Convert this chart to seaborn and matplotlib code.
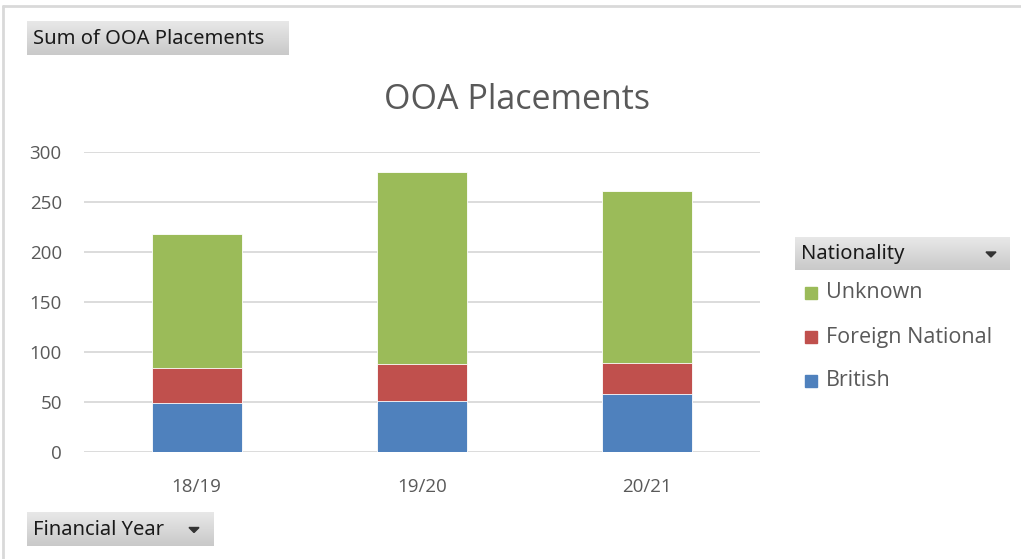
import numpy as np
import pandas as pd
import matplotlib
matplotlib.use("Agg")
import matplotlib.pyplot as plt
import seaborn as sns

# data
years = ["18/19", "19/20", "20/21"]
british = [49, 51, 58]
foreign = [35, 37, 31]
unknown = [134, 192, 172]

GREEN = "#9bbb59"
RED = "#c0504d"
BLUE = "#4f81bd"
TXT = "#595959"

sns.set_theme(style="white")
plt.rcParams['font.family'] = ['Open Sans', 'DejaVu Sans']

W, H = 1021, 559
fig = plt.figure(figsize=(W / 100, H / 100), dpi=100)

# background layer in pixel coords for frame and buttons
bg = fig.add_axes([0, 0, 1, 1])
bg.set_xlim(0, W)
bg.set_ylim(H, 0)
bg.axis("off")
bg.plot([3, W], [6, 6], color="#d9d9d9", lw=2)
bg.plot([3, 3], [6, H], color="#d9d9d9", lw=2)

grad = np.linspace(0, 1, 64).reshape(-1, 1)
cmap = matplotlib.colors.LinearSegmentedColormap.from_list("btn", ["#e8e8e8", "#c9c9c9"])


def button(x0, y0, x1, y1, label, arrow=False):
    bg.imshow(grad, cmap=cmap, extent=(x0, x1, y1, y0), aspect="auto", zorder=1)
    bg.text(x0 + 6, (y0 + y1) / 2 + 1, label, fontsize=14.5, color="#1a1a1a",
            va="center", ha="left", family=["Noto Sans", "DejaVu Sans"], zorder=2)
    if arrow:
        tx = x1 - 19
        ty = (y0 + y1) / 2 + 1
        bg.add_patch(plt.Polygon([[tx - 5, ty - 2.5], [tx + 5, ty - 2.5], [tx, ty + 2.5]],
                                 color="#333333", zorder=2))


button(27, 21, 288, 55, "Sum of OOA Placements")
button(27, 512, 213, 546, "Financial Year", arrow=True)
button(795, 237, 1010, 270, "Nationality", arrow=True)

# main chart
ax = fig.add_axes([84 / W, 1 - 452 / H, (760 - 84) / W, (452 - 152) / H])
ax.set_facecolor("none")

df = pd.DataFrame({"year": years, "British": british,
                   "Foreign National": foreign, "Unknown": unknown})
df["lvl2"] = df["British"] + df["Foreign National"]
df["lvl3"] = df["lvl2"] + df["Unknown"]

sns.barplot(data=df, x="year", y="lvl3", color=GREEN, width=0.4, saturation=1,
            edgecolor="white", linewidth=0.6, ax=ax, zorder=3)
sns.barplot(data=df, x="year", y="lvl2", color=RED, width=0.4, saturation=1,
            edgecolor="white", linewidth=0.6, ax=ax, zorder=4)
sns.barplot(data=df, x="year", y="British", color=BLUE, width=0.4, saturation=1,
            edgecolor="white", linewidth=0.6, ax=ax, zorder=5)

ax.set_ylim(0, 300)
ax.set_xlim(-0.5, 2.5)
ax.set_yticks(range(0, 301, 50))
ax.yaxis.grid(True, color="#d9d9d9", lw=1.3, zorder=0)
ax.set_axisbelow(True)
for s in ax.spines.values():
    s.set_visible(False)
ax.tick_params(axis="both", length=0, labelsize=13.5, colors=TXT)
ax.tick_params(axis="y", pad=16)
ax.tick_params(axis="x", pad=19)
ax.set_xlabel("")
ax.set_ylabel("")
fig.text(517 / W, 1 - 100 / H, "OOA Placements", fontsize=24.5, color=TXT,
         ha="center", va="center")

# legend
for i, (lab, col) in enumerate([("Unknown", GREEN), ("Foreign National", RED), ("British", BLUE)]):
    y = 293 + i * 44
    bg.add_patch(plt.Rectangle((805, y - 6), 12, 12, color=col, zorder=3))
    bg.text(826, y, lab, fontsize=15.5, color=TXT, va="center", ha="left", zorder=3)

fig.savefig("out.png", dpi=100)
